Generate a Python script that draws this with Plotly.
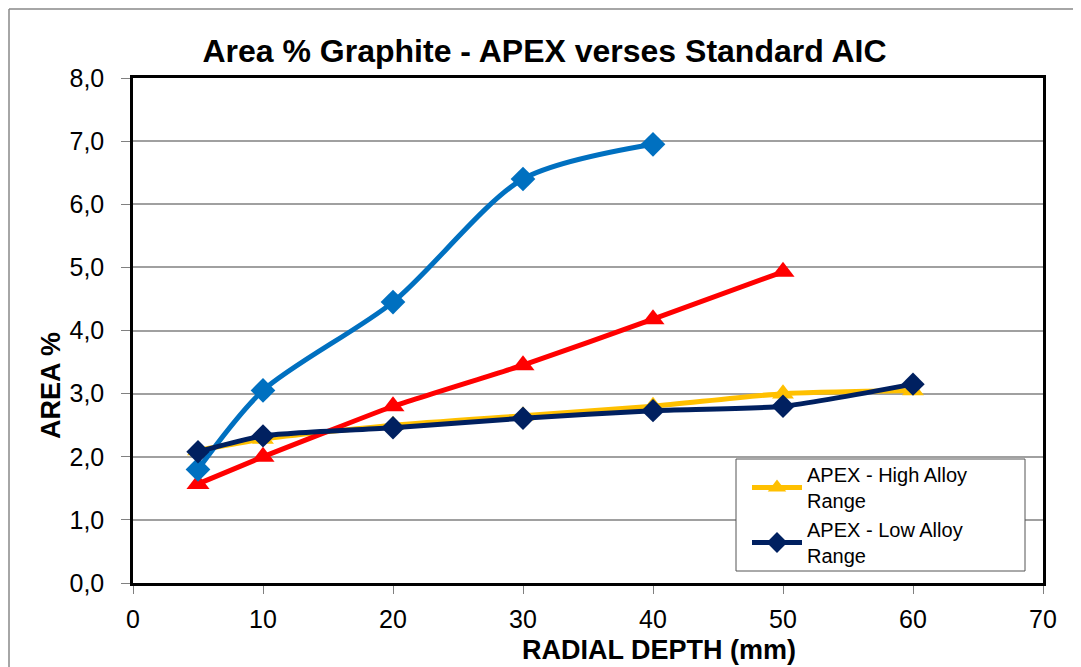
import plotly.graph_objects as go

depth_blue = [5, 10, 20, 30, 40]
area_blue = [1.8, 3.05, 4.45, 6.4, 6.95]
depth_red = [5, 10, 20, 30, 40, 50]
area_red = [1.57, 2.0, 2.8, 3.45, 4.18, 4.93]
depth_high = [5, 10, 20, 30, 40, 50, 60]
area_high = [2.1, 2.28, 2.5, 2.65, 2.8, 3.0, 3.05]
depth_low = [5, 10, 20, 30, 40, 50, 60]
area_low = [2.08, 2.33, 2.46, 2.61, 2.73, 2.8, 3.15]

x_ticks = [0, 10, 20, 30, 40, 50, 60, 70]
y_ticks = [0, 1, 2, 3, 4, 5, 6, 7, 8]

FONT = "Liberation Sans, Arial, sans-serif"

fig = go.Figure()
fig.add_trace(go.Scatter(x=depth_high, y=area_high, mode="lines+markers",
                         name="APEX - High Alloy<br>Range",
                         line=dict(color="#FFC000", width=5, shape="spline", smoothing=0.6),
                         marker=dict(symbol="triangle-up", size=19, color="#FFC000")))
fig.add_trace(go.Scatter(x=depth_red, y=area_red, mode="lines+markers", showlegend=False,
                         line=dict(color="#FF0000", width=5, shape="spline", smoothing=0.3),
                         marker=dict(symbol="triangle-up", size=20, color="#FF0000")))
fig.add_trace(go.Scatter(x=depth_blue, y=area_blue, mode="lines+markers", showlegend=False,
                         line=dict(color="#0070C0", width=5, shape="spline", smoothing=0.8),
                         marker=dict(symbol="diamond", size=19, color="#0070C0")))
fig.add_trace(go.Scatter(x=depth_low, y=area_low, mode="lines+markers",
                         name="APEX - Low Alloy<br>Range",
                         line=dict(color="#002060", width=5, shape="spline", smoothing=0.6),
                         marker=dict(symbol="diamond", size=18, color="#002060")))

# page has an 8px body margin; figure is sized so the plot sits where the reference has it
W, H = 1073, 659
L, R, T, B = 125, 38, 70, 84
pw, ph = W - L - R, H - T - B
OX, OY = 133, 78  # page position of plot area top-left


def px(xp):
    return (xp - OX) / pw


def py(yp):
    return (OY + ph - yp) / ph


fig.update_layout(
    width=W, height=H,
    margin=dict(l=L, r=R, t=T, b=B),
    paper_bgcolor="white", plot_bgcolor="white",
    separators=", ",
    title=dict(text="<b>Area % Graphite - APEX verses Standard AIC</b>",
               x=0.5, xanchor="center", y=1 - 43 / H, yanchor="middle",
               font=dict(family=FONT, size=32, color="black")),
    font=dict(family=FONT, color="black"),
    xaxis=dict(range=[0, 70], tickvals=x_ticks, showgrid=False, zeroline=False,
               showline=True, linecolor="black", linewidth=2.5, mirror=True,
               ticks="outside", ticklen=8, tickcolor="#808080",
               ticklabelstandoff=4,
               tickfont=dict(size=25)),
    yaxis=dict(range=[0, 8], tickvals=y_ticks, tickformat=".1f", showgrid=True,
               gridcolor="#A0A0A0", gridwidth=2,
               zeroline=False, showline=True, linecolor="black", linewidth=2.5, mirror=True,
               ticks="outside", ticklen=9, tickcolor="#808080",
               ticklabelstandoff=12,
               tickfont=dict(size=25)),
    legend=dict(x=px(747), y=py(455), xanchor="left", yanchor="top",
                bgcolor="rgba(0,0,0,0)", borderwidth=0,
                font=dict(family=FONT, size=20),
                itemwidth=50, tracegroupgap=1),
    annotations=[
        dict(text="<b>RADIAL DEPTH (mm)</b>", xref="paper", yref="paper",
             x=px(659), y=py(650), xanchor="center", yanchor="middle",
             showarrow=False, font=dict(family=FONT, size=27, color="black")),
        dict(text="<b>AREA %</b>", xref="paper", yref="paper", textangle=-90,
             x=px(51), y=py(386), xanchor="center", yanchor="middle",
             showarrow=False, font=dict(family=FONT, size=27, color="black")),
    ],
    shapes=[
        dict(type="rect", xref="paper", yref="paper", layer="above",
             x0=px(736), x1=px(1025), y0=py(571), y1=py(459),
             line=dict(color="#555555", width=1), fillcolor="white"),
        dict(type="line", xref="paper", yref="paper",
             x0=px(9), x1=px(1081), y0=py(9), y1=py(9),
             line=dict(color="#888888", width=1.5)),
        dict(type="line", xref="paper", yref="paper",
             x0=px(9), x1=px(9), y0=py(667), y1=py(9),
             line=dict(color="#888888", width=1.5)),
    ],
)

fig.write_html("out.html")
